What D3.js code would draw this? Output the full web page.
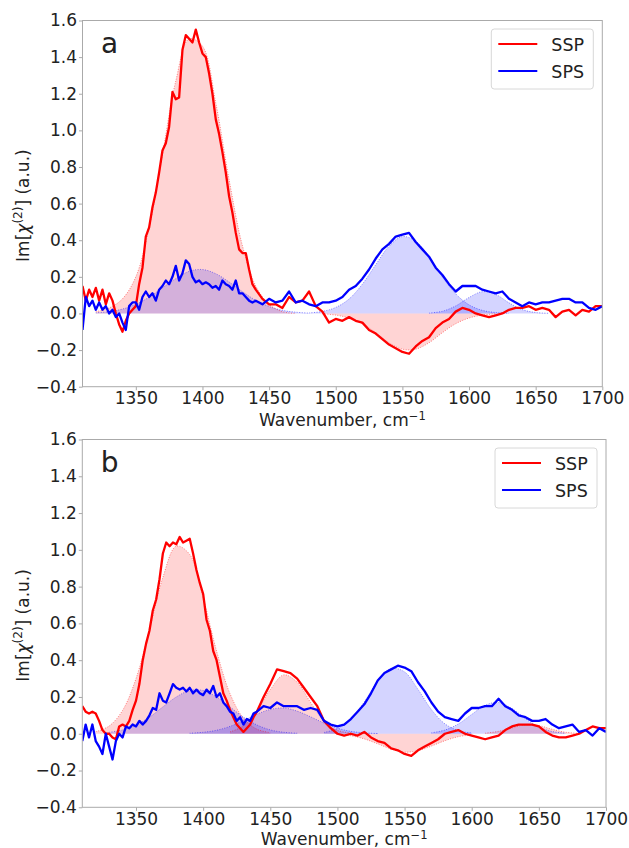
<!DOCTYPE html>
<html>
<head>
<meta charset="utf-8">
<script src="https://cdn.jsdelivr.net/npm/d3@7"></script>
<style>
  body { margin: 0; background: #fff; }
  text { font-family: "DejaVu Sans", sans-serif; fill: #222; }
</style>
</head>
<body>
<div id="chart"></div>
<script>
// wavenumber grid (cm-1): 2.5 steps up to 1440, then 5 steps
const wavenumber = [
  1310, 1312.5, 1315, 1317.5, 1320, 1322.5, 1325, 1327.5, 1330, 1332.5,
  1335, 1337.5, 1340, 1342.5, 1345, 1347.5, 1350, 1352.5, 1355, 1357.5,
  1360, 1362.5, 1365, 1367.5, 1370, 1372.5, 1375, 1377.5, 1380, 1382.5,
  1385, 1387.5, 1390, 1392.5, 1395, 1397.5, 1400, 1402.5, 1405, 1407.5,
  1410, 1412.5, 1415, 1417.5, 1420, 1422.5, 1425, 1427.5, 1430, 1432.5,
  1435, 1437.5, 1440,
  1445, 1450, 1455, 1460, 1465, 1470, 1475, 1480, 1485, 1490,
  1495, 1500, 1505, 1510, 1515, 1520, 1525, 1530, 1535, 1540,
  1545, 1550, 1555, 1560, 1565, 1570, 1575, 1580, 1585, 1590,
  1595, 1600, 1605, 1610, 1615, 1620, 1625, 1630, 1635, 1640,
  1645, 1650, 1655, 1660, 1665, 1670, 1675, 1680, 1685, 1690,
  1695, 1700
];

// panel a, measured spectra
const sspA = [
  0.15, 0.07, 0.13, 0.09, 0.14, 0.07, 0.13, 0.05, 0.11, 0.07,
  0.0, -0.06, -0.10, -0.04, 0.0, 0.02, 0.04, 0.16, 0.25, 0.42,
  0.47, 0.58, 0.66, 0.77, 0.89, 0.93, 1.02, 1.21, 1.17, 1.18,
  1.44, 1.52, 1.50, 1.48, 1.55, 1.48, 1.42, 1.40, 1.31, 1.20,
  1.06, 0.98, 0.88, 0.77, 0.64, 0.55, 0.44, 0.35, 0.33, 0.33,
  0.24, 0.16, 0.13,
  0.08, 0.05, 0.05, 0.03, 0.09, 0.06, 0.07, 0.12, 0.04, 0.01,
  -0.05, -0.03, -0.04, -0.02, -0.04, -0.05, -0.09, -0.11, -0.14, -0.17,
  -0.19, -0.21, -0.22, -0.18, -0.15, -0.13, -0.08, -0.05, -0.03, 0.01,
  0.03, 0.02, 0.0, -0.01, -0.02, -0.01, 0.0, 0.02, 0.03, 0.03,
  0.04, 0.02, 0.03, 0.02, -0.02, 0.01, 0.02, -0.01, 0.02, 0.01,
  0.04, 0.04
];
const spsA = [
  -0.09, 0.09, 0.04, 0.07, 0.02, 0.06, 0.02, 0.04, 0.0, 0.02,
  -0.02, 0.0, -0.05, -0.09, 0.04, 0.06, 0.06, 0.02, 0.09, 0.12,
  0.09, 0.11, 0.07, 0.13, 0.15, 0.18, 0.16, 0.20, 0.26, 0.18,
  0.22, 0.29, 0.27, 0.20, 0.17, 0.18, 0.16, 0.17, 0.16, 0.14,
  0.15, 0.13, 0.18, 0.16, 0.15, 0.13, 0.18, 0.11, 0.11, 0.09,
  0.07, 0.06, 0.07,
  0.05, 0.08, 0.06, 0.07, 0.12, 0.06, 0.07, 0.05, 0.04, 0.06,
  0.06, 0.07, 0.09, 0.13, 0.15, 0.19, 0.24, 0.30, 0.35, 0.38,
  0.42, 0.43, 0.44, 0.39, 0.35, 0.31, 0.25, 0.21, 0.16, 0.12,
  0.15, 0.15, 0.15, 0.13, 0.12, 0.11, 0.12, 0.08, 0.06, 0.04,
  0.06, 0.05, 0.06, 0.06, 0.07, 0.08, 0.08, 0.06, 0.06, 0.03,
  0.02, 0.04
];

// panel b, measured spectra
const sspB = [
  0.15, 0.12, 0.11, 0.12, 0.11, 0.07, 0.02, 0.0, 0.0, -0.02,
  -0.03, 0.04, 0.05, 0.04, 0.07, 0.13, 0.18, 0.27, 0.40, 0.49,
  0.56, 0.67, 0.73, 0.84, 0.98, 1.04, 1.02, 1.04, 1.03, 1.07,
  1.04, 1.05, 1.06, 0.98, 0.89, 0.82, 0.76, 0.62, 0.56, 0.45,
  0.40, 0.31, 0.22, 0.18, 0.13, 0.09, 0.05, 0.03, 0.01, 0.03,
  0.05, 0.09, 0.12,
  0.20, 0.27, 0.35, 0.34, 0.33, 0.30, 0.25, 0.20, 0.15, 0.07,
  0.03, 0.0, -0.01, 0.0, -0.01, 0.01, -0.02, -0.04, -0.05, -0.08,
  -0.09, -0.11, -0.12, -0.09, -0.07, -0.05, -0.03, 0.0, 0.01, 0.02,
  0.0, -0.01, -0.02, -0.03, -0.02, -0.01, 0.02, 0.04, 0.05, 0.05,
  0.05, 0.04, 0.01, -0.01, -0.02, -0.02, -0.01, 0.0, 0.02, 0.04,
  0.03, 0.03
];
const spsB = [
  -0.04, 0.05, -0.02, 0.05, -0.04, -0.07, -0.11, 0.0, -0.07, -0.14,
  -0.04, 0.0, -0.02, 0.04, 0.03, 0.05, 0.04, 0.07, 0.05, 0.07,
  0.10, 0.14, 0.13, 0.22, 0.18, 0.17, 0.22, 0.27, 0.25, 0.24,
  0.25, 0.23, 0.25, 0.22, 0.24, 0.22, 0.21, 0.24, 0.22, 0.26,
  0.20, 0.22, 0.17, 0.15, 0.12, 0.11, 0.07, 0.09, 0.05, 0.08,
  0.07, 0.11, 0.12,
  0.15, 0.14, 0.17, 0.15, 0.15, 0.15, 0.13, 0.14, 0.13, 0.07,
  0.05, 0.04, 0.05, 0.08, 0.12, 0.16, 0.22, 0.29, 0.33, 0.35,
  0.37, 0.36, 0.34, 0.28, 0.23, 0.17, 0.12, 0.09, 0.08, 0.07,
  0.11, 0.14, 0.14, 0.15, 0.15, 0.19, 0.15, 0.13, 0.10, 0.09,
  0.07, 0.07, 0.08, 0.05, 0.03, 0.04, 0.05, 0.01, 0.02, -0.01,
  0.03, 0.01
];

// fitted components, panel a
const sspAFit1X = [1320, 1330, 1340, 1350, 1360, 1370, 1380, 1390, 1400, 1410, 1420, 1430, 1440, 1450, 1460, 1470];
const sspAFit1  = [0.01, 0.03, 0.08, 0.20, 0.47, 0.87, 1.27, 1.50, 1.46, 1.15, 0.73, 0.37, 0.15, 0.05, 0.01, 0];
const sspAFit2X = [1490, 1500, 1510, 1520, 1530, 1540, 1550, 1560, 1570, 1580, 1590, 1600, 1610, 1620];
const sspAFit2  = [-0.002, -0.009, -0.025, -0.056, -0.105, -0.16, -0.195, -0.195, -0.16, -0.105, -0.056, -0.025, -0.009, -0.002];
const spsAFit1X = [1320, 1330, 1340, 1350, 1360, 1370, 1380, 1390, 1400, 1410, 1420, 1430, 1440, 1450, 1460, 1470, 1480];
const spsAFit1  = [0.004, 0.01, 0.024, 0.05, 0.089, 0.14, 0.19, 0.23, 0.24, 0.217, 0.172, 0.119, 0.072, 0.038, 0.017, 0.007, 0.002];
const spsAFit2X = [1480, 1490, 1500, 1510, 1520, 1530, 1540, 1550, 1560, 1570, 1580, 1590, 1600, 1610, 1620, 1630];
const spsAFit2  = [0.003, 0.011, 0.033, 0.079, 0.16, 0.266, 0.367, 0.42, 0.395, 0.31, 0.2, 0.107, 0.047, 0.017, 0.005, 0.001];
const spsAFit3X = [1570, 1580, 1590, 1600, 1610, 1620, 1630, 1640, 1650, 1660];
const spsAFit3  = [0.002, 0.012, 0.041, 0.087, 0.119, 0.104, 0.058, 0.021, 0.005, 0.001];

// fitted components, panel b
const sspBFit1X = [1320, 1330, 1340, 1350, 1360, 1370, 1380, 1390, 1400, 1410, 1420, 1430, 1440, 1450];
const sspBFit1  = [0.011, 0.042, 0.127, 0.30, 0.565, 0.85, 1.02, 0.975, 0.74, 0.45, 0.218, 0.084, 0.025, 0.006];
const sspBFit2X = [1420, 1430, 1440, 1450, 1460, 1470, 1480, 1490, 1500, 1510];
const sspBFit2  = [0.01, 0.043, 0.124, 0.24, 0.32, 0.28, 0.17, 0.069, 0.019, 0.004];
const sspBFit3X = [1500, 1510, 1520, 1530, 1540, 1550, 1560, 1570, 1580, 1590, 1600];
const sspBFit3  = [-0.003, -0.011, -0.028, -0.055, -0.083, -0.1, -0.092, -0.067, -0.038, -0.016, -0.006];
const sspBFit4X = [1610, 1620, 1630, 1640, 1650, 1660, 1670, 1680];
const sspBFit4  = [0.003, 0.013, 0.032, 0.049, 0.044, 0.024, 0.008, 0.002];
const spsBFit1X = [1330, 1340, 1350, 1360, 1370, 1380, 1390, 1400, 1410, 1420, 1430, 1440, 1450, 1460, 1470];
const spsBFit1  = [0.008, 0.021, 0.048, 0.09, 0.146, 0.2, 0.235, 0.235, 0.2, 0.146, 0.09, 0.048, 0.021, 0.008, 0.003];
const spsBFit2X = [1390, 1400, 1410, 1420, 1430, 1440, 1450, 1460, 1470, 1480, 1490, 1500, 1510, 1520, 1530];
const spsBFit2  = [0.003, 0.008, 0.019, 0.04, 0.071, 0.106, 0.132, 0.14, 0.123, 0.092, 0.058, 0.03, 0.013, 0.005, 0.001];
const spsBFit3X = [1490, 1500, 1510, 1520, 1530, 1540, 1550, 1560, 1570, 1580, 1590, 1600];
const spsBFit3  = [0.007, 0.028, 0.08, 0.173, 0.285, 0.355, 0.336, 0.241, 0.131, 0.054, 0.017, 0.004];
const spsBFit4X = [1570, 1580, 1590, 1600, 1610, 1620, 1630, 1640, 1650, 1660, 1670];
const spsBFit4  = [0.005, 0.02, 0.053, 0.105, 0.155, 0.17, 0.137, 0.082, 0.037, 0.012, 0.003];

const xTicks = [1350, 1400, 1450, 1500, 1550, 1600, 1650, 1700];
const yTicks = [-0.4, -0.2, 0.0, 0.2, 0.4, 0.6, 0.8, 1.0, 1.2, 1.4, 1.6];
const seriesNames = ["SSP", "SPS"];
const colors = { SSP: "#ff0000", SPS: "#0000ff" };

const W = 629, H = 848;
const svg = d3.select("#chart").append("svg")
  .attr("width", W).attr("height", H);

const zip = (xs, ys) => xs.map((x, i) => [x, ys[i]]);

function drawPanel(p) {
  const x = d3.scaleLinear().domain([1310, 1700]).range([p.left, p.right]);
  const y = d3.scaleLinear().domain([-0.4, 1.6]).range([p.bottom, p.top]);

  const g = svg.append("g");
  const clipId = "clip-" + p.letter;
  g.append("clipPath").attr("id", clipId)
    .append("rect")
    .attr("x", p.left).attr("y", p.top)
    .attr("width", p.right - p.left).attr("height", p.bottom - p.top);

  const plot = g.append("g").attr("clip-path", `url(#${clipId})`);

  const area = d3.area().curve(d3.curveCatmullRom)
    .x(d => x(d[0])).y0(y(0)).y1(d => y(d[1]));
  const fitLine = d3.line().curve(d3.curveCatmullRom)
    .x(d => x(d[0])).y(d => y(d[1]));
  const line = d3.line().x(d => x(d[0])).y(d => y(d[1]));

  // filled fit components
  p.fits.forEach(f => {
    plot.append("path")
      .attr("d", area(f.pts))
      .attr("fill", colors[f.name])
      .attr("fill-opacity", 0.17);
  });
  p.fits.forEach(f => {
    plot.append("path")
      .attr("d", fitLine(f.pts))
      .attr("fill", "none")
      .attr("stroke", colors[f.name])
      .attr("stroke-opacity", 0.6)
      .attr("stroke-width", 0.8)
      .attr("stroke-dasharray", "1,1.5");
  });

  // measured spectra
  [["SSP", p.ssp], ["SPS", p.sps]].forEach(([name, vals]) => {
    plot.append("path")
      .attr("d", line(zip(wavenumber, vals)))
      .attr("fill", "none")
      .attr("stroke", colors[name])
      .attr("stroke-width", 2.3)
      .attr("stroke-linejoin", "round");
  });

  // axes
  const xAxis = g.append("g")
    .attr("transform", `translate(0,${p.bottom})`)
    .call(d3.axisBottom(x).tickValues(xTicks).tickSize(3.5).tickPadding(2).tickFormat(d3.format("d")));
  const yAxis = g.append("g")
    .attr("transform", `translate(${p.left},0)`)
    .call(d3.axisLeft(y).tickValues(yTicks).tickSize(3.5).tickPadding(2).tickFormat(d3.format(".1f")));
  [xAxis, yAxis].forEach(a => {
    a.select(".domain").remove();
    a.selectAll(".tick line").attr("stroke", "#aaa");
    a.selectAll("text").style("font-size", "17px").style("font-family", "DejaVu Sans").attr("fill", "#222");
  });

  g.append("rect")
    .attr("x", p.left).attr("y", p.top)
    .attr("width", p.right - p.left).attr("height", p.bottom - p.top)
    .attr("fill", "none").attr("stroke", "#aaa").attr("stroke-width", 1);

  // axis titles
  const xl = g.append("text")
    .attr("x", (p.left + p.right) / 2).attr("y", p.xLabelY)
    .attr("text-anchor", "middle").style("font-size", "17px");
  xl.append("tspan").text("Wavenumber, cm");
  xl.append("tspan").attr("dy", -6).style("font-size", "11.5px").text("−1");

  const yl = g.append("text")
    .attr("transform", `translate(29,${(p.top + p.bottom) / 2 + 2}) rotate(-90)`)
    .attr("text-anchor", "middle").style("font-size", "17px");
  yl.append("tspan").text("Im[");
  yl.append("tspan").style("font-style", "italic").text("χ");
  yl.append("tspan").attr("dy", -7).style("font-size", "12px").text("(2)");
  yl.append("tspan").attr("dy", 7).text("] (a.u.)");

  // panel letter
  g.append("text")
    .attr("x", p.left + 18.5).attr("y", p.top + 32.5)
    .style("font-size", "28px").text(p.letter);

  // legend
  const lg = g.append("g").attr("transform", `translate(${p.right - 111},${p.top + 8.5})`);
  lg.append("rect")
    .attr("width", 102).attr("height", 60).attr("rx", 3)
    .attr("fill", "#fff").attr("fill-opacity", 0.8)
    .attr("stroke", "#d8d8d8");
  seriesNames.forEach((name, i) => {
    const ly = 15 + i * 27;
    lg.append("line")
      .attr("x1", 7).attr("x2", 46).attr("y1", ly).attr("y2", ly)
      .attr("stroke", colors[name]).attr("stroke-width", 2.2);
    lg.append("text")
      .attr("x", 60).attr("y", ly + 6.5)
      .style("font-size", "17.5px").text(name);
  });
}

drawPanel({
  letter: "a", left: 82.5, right: 602.3, top: 20.5, bottom: 386.7, xLabelY: 426,
  ssp: sspA, sps: spsA,
  fits: [
    { name: "SSP", pts: zip(sspAFit1X, sspAFit1) },
    { name: "SSP", pts: zip(sspAFit2X, sspAFit2) },
    { name: "SPS", pts: zip(spsAFit1X, spsAFit1) },
    { name: "SPS", pts: zip(spsAFit2X, spsAFit2) },
    { name: "SPS", pts: zip(spsAFit3X, spsAFit3) }
  ]
});

drawPanel({
  letter: "b", left: 82.3, right: 606, top: 439.5, bottom: 807.3, xLabelY: 845,
  ssp: sspB, sps: spsB,
  fits: [
    { name: "SSP", pts: zip(sspBFit1X, sspBFit1) },
    { name: "SSP", pts: zip(sspBFit2X, sspBFit2) },
    { name: "SSP", pts: zip(sspBFit3X, sspBFit3) },
    { name: "SSP", pts: zip(sspBFit4X, sspBFit4) },
    { name: "SPS", pts: zip(spsBFit1X, spsBFit1) },
    { name: "SPS", pts: zip(spsBFit2X, spsBFit2) },
    { name: "SPS", pts: zip(spsBFit3X, spsBFit3) },
    { name: "SPS", pts: zip(spsBFit4X, spsBFit4) }
  ]
});
</script>
</body>
</html>
